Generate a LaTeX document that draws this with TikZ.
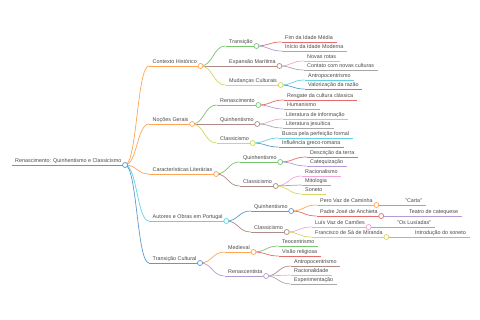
\documentclass[tikz,border=0pt]{standalone}
\usepackage{fontspec}
\setmainfont{Liberation Sans}
\usetikzlibrary{calc}

\definecolor{cblue}{HTML}{5A9BD0}
\definecolor{corange}{HTML}{FFA552}
\definecolor{cgreen}{HTML}{78C66F}
\definecolor{cred}{HTML}{E46B6C}
\definecolor{cpurple}{HTML}{B39BD6}
\definecolor{cbrown}{HTML}{AE8C85}
\definecolor{cpink}{HTML}{EEA6DA}
\definecolor{cgray}{HTML}{A8A8A8}
\definecolor{colive}{HTML}{D5D665}
\definecolor{ccyan}{HTML}{62D3E0}

\tikzset{
  topic/.style={anchor=south west, inner xsep=3.5pt, inner ysep=0.8pt,
    text height=4pt, text depth=1.2pt, text=black!72,
    font=\fontsize{5.4}{6}\selectfont},
  uline/.style={line width=0.7pt},
  link/.style={line width=0.7pt, to path={let \p1=(\tikztostart), \p2=(\tikztotarget) in
    .. controls ({(\x1+\x2)/2},\y1) and ({(\x1+\x2)/2},\y2) .. (\tikztotarget)}},
  knob/.style={fill=white, line width=0.7pt}
}

% one topic: text with its line under it
\newcommand{\topic}[5]{%
  \node[topic] (#1) at (#2,#3) {#5};
  \draw[uline,#4] (#1.south west) -- (#1.south east);}

\begin{document}
\begin{tikzpicture}[x=1pt, y=-1pt]
    \useasboundingbox (0,0) rectangle (480,320);

    % Root
    \topic{root}{11.5}{165}{cblue}{Renascimento: Quinhentismo e Classicismo}

    % Contexto Histórico
    \topic{ctx}{149}{66}{corange}{Contexto Histórico}
    \topic{trans}{225.5}{46}{cgreen}{Transição}
    \topic{fim}{281.5}{42}{cred}{Fim da Idade Média}
    \topic{inicio}{281.5}{51}{cpurple}{Início da Idade Moderna}
    \topic{expan}{225.5}{66}{cbrown}{Expansão Marítima}
    \topic{rotas}{303.5}{61}{cpink}{Novas rotas}
    \topic{contato}{303.5}{70}{cgray}{Contato com novas culturas}
    \topic{mudan}{225.5}{85}{colive}{Mudanças Culturais}
    \topic{antropA}{304.5}{80}{ccyan}{Antropocentrismo}
    \topic{razao}{304.5}{89}{cblue}{Valorização da razão}

    % Noções Gerais
    \topic{nocoes}{149}{124}{corange}{Noções Gerais}
    \topic{renasc}{216.5}{105}{cgreen}{Renascimento}
    \topic{resgate}{283.5}{100}{cred}{Resgate da cultura clássica}
    \topic{human}{283.5}{109}{cpurple}{Humanismo}
    \topic{quinA}{216.5}{124}{cbrown}{Quinhentismo}
    \topic{litinfo}{282.5}{119}{cpink}{Literatura de informação}
    \topic{litjes}{282.5}{128}{cgray}{Literatura jesuítica}
    \topic{classA}{216.5}{143}{colive}{Classicismo}
    \topic{busca}{278.5}{138}{ccyan}{Busca pela perfeição formal}
    \topic{greco}{278.5}{147}{cblue}{Influência greco-romana}

    % Características Literárias
    \topic{carac}{149}{174}{corange}{Características Literárias}
    \topic{quinB}{239.5}{162}{cgreen}{Quinhentismo}
    \topic{descr}{306.5}{157}{cred}{Descrição da terra}
    \topic{categ}{306.5}{166}{cpurple}{Catequização}
    \topic{classB}{239.5}{186}{cbrown}{Classicismo}
    \topic{racion}{301.5}{176}{cpink}{Racionalismo}
    \topic{mito}{301.5}{185}{cgray}{Mitologia}
    \topic{soneto}{301.5}{194}{colive}{Soneto}

    % Autores e Obras em Portugal
    \topic{autores}{149}{221}{ccyan}{Autores e Obras em Portugal}
    \topic{quinC}{250.5}{211}{cblue}{Quinhentismo}
    \topic{pero}{316.5}{205}{corange}{Pero Vaz de Caminha}
    \topic{carta}{401.5}{205}{cgreen}{"Carta"}
    \topic{anchieta}{316.5}{216}{cred}{Padre José de Anchieta}
    \topic{teatro}{405.5}{216}{cpurple}{Teatro de catequese}
    \topic{classC}{250.5}{232}{cbrown}{Classicismo}
    \topic{camoes}{311.5}{227}{cpink}{Luís Vaz de Camões}
    \topic{lusiadas}{393.5}{227}{cgray}{"Os Lusíadas"}
    \topic{miranda}{311.5}{237}{colive}{Francisco de Sá de Miranda}
    \topic{introd}{411.5}{237}{ccyan}{Introdução do soneto}

    % Transição Cultural
    \topic{transc}{149}{263}{cblue}{Transição Cultural}
    \topic{medieval}{224.5}{252}{corange}{Medieval}
    \topic{teoc}{278.5}{246}{cgreen}{Teocentrismo}
    \topic{visao}{278.5}{256}{cred}{Visão religiosa}
    \topic{renascB}{224.5}{276}{cpurple}{Renascentista}
    \topic{antropB}{290.5}{266}{cbrown}{Antropocentrismo}
    \topic{racional}{290.5}{275}{cpink}{Racionalidade}
    \topic{experim}{290.5}{284}{cgray}{Experimentação}

    % Links, coloured as the child
    \foreach \a/\b/\col in {root/ctx/corange, root/nocoes/corange, root/carac/corange,
        root/autores/ccyan, root/transc/cblue,
        ctx/trans/cgreen, ctx/expan/cbrown, ctx/mudan/colive,
        trans/fim/cred, trans/inicio/cpurple, expan/rotas/cpink, expan/contato/cgray,
        mudan/antropA/ccyan, mudan/razao/cblue,
        nocoes/renasc/cgreen, nocoes/quinA/cbrown, nocoes/classA/colive,
        renasc/resgate/cred, renasc/human/cpurple, quinA/litinfo/cpink, quinA/litjes/cgray,
        classA/busca/ccyan, classA/greco/cblue,
        carac/quinB/cgreen, carac/classB/cbrown,
        quinB/descr/cred, quinB/categ/cpurple,
        classB/racion/cpink, classB/mito/cgray, classB/soneto/colive,
        autores/quinC/cblue, autores/classC/cbrown,
        quinC/pero/corange, quinC/anchieta/cred, pero/carta/cgreen, anchieta/teatro/cpurple,
        classC/camoes/cpink, classC/miranda/colive, camoes/lusiadas/cgray, miranda/introd/ccyan,
        transc/medieval/corange, transc/renascB/cpurple,
        medieval/teoc/cgreen, medieval/visao/cred,
        renascB/antropB/cbrown, renascB/racional/cpink, renascB/experim/cgray}
      \draw[link,\col] (\a.south east) to (\b.south west);

    % Knobs on topics with children
    \foreach \n/\col in {root/cblue, ctx/corange, trans/cgreen, expan/cbrown, mudan/colive,
        nocoes/corange, renasc/cgreen, quinA/cbrown, classA/colive,
        carac/corange, quinB/cgreen, classB/cbrown,
        autores/ccyan, quinC/cblue, pero/corange, anchieta/cred, classC/cbrown,
        camoes/cpink, miranda/colive,
        transc/cblue, medieval/corange, renascB/cpurple}
      \draw[\col,knob] (\n.south east) circle (2.5pt);
\end{tikzpicture}
\end{document}
